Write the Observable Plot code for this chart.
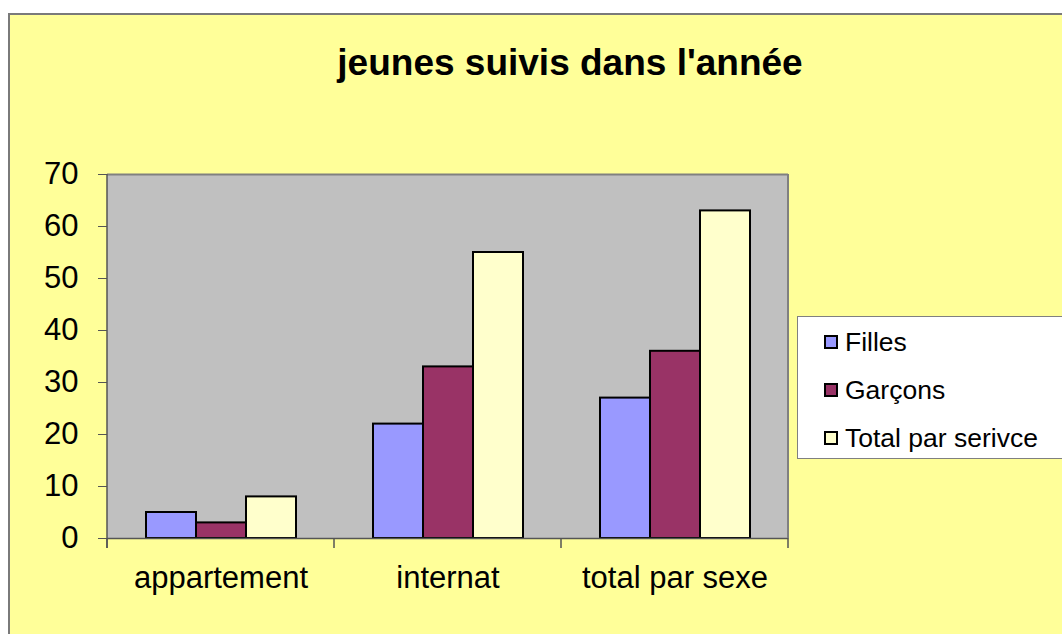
<!DOCTYPE html>
<html>
<head>
<meta charset="utf-8">
<script src="https://cdn.jsdelivr.net/npm/d3@7"></script>
<script src="https://cdn.jsdelivr.net/npm/@observablehq/plot@0.6"></script>
<style>
  html, body { margin: 0; padding: 0; background: #ffffff; }
  body { width: 1062px; height: 634px; position: relative; overflow: hidden; font-family: "Liberation Sans", Arial, sans-serif; }
  #box { position: absolute; left: 8px; top: 13px; width: 1100px; height: 700px; background: #FFFF99; border-left: 2px solid #7a7a7a; border-top: 2px solid #7a7a7a; }
  #title { position: absolute; left: 0; top: 44px; width: 1140px; text-align: center; font: bold 37px/37px "Liberation Sans", Arial, sans-serif; color: #000; white-space: nowrap; }
  #chart { position: absolute; left: 0; top: 0; }
  #legend { position: absolute; left: 797px; top: 316px; width: 300px; height: 143px; background: #ffffff; border: 1px solid #808080; box-sizing: border-box; padding-top: 1px; padding-left: 26px; }
  .item { height: 48px; display: flex; align-items: center; font-size: 26.5px; color: #000; white-space: nowrap; }
  .sw { width: 10px; height: 10px; border: 2px solid #000; margin-right: 7px; flex: none; }
</style>
</head>
<body>
<div id="box"></div>
<div id="title">jeunes suivis dans l'année</div>
<div id="chart"></div>
<div id="legend"></div>
<script>
const categories = ["appartement", "internat", "total par sexe"];
const series = ["Filles", "Garçons", "Total par serivce"];
const filles = [5, 22, 27];
const garcons = [3, 33, 36];
const totals = [8, 55, 63];
const yTicks = [0, 10, 20, 30, 40, 50, 60, 70];
const colors = ["#9999FF", "#993366", "#FFFFCC"];

const seriesValues = [filles, garcons, totals];
const rows = categories.flatMap((cat, i) =>
  series.map((s, j) => ({cat, series: s, value: seriesValues[j][i]}))
);

const chart = Plot.plot({
  width: 800,
  height: 634,
  marginLeft: 107,
  marginRight: 12,
  marginTop: 174,
  marginBottom: 96,
  style: {background: "transparent", fontFamily: "'Liberation Sans', Arial, sans-serif", fontSize: "31px", color: "#000", overflow: "visible"},
  fx: {domain: categories, padding: 0, label: null},
  x: {domain: series, paddingInner: 0, paddingOuter: 0.74, axis: null},
  y: {domain: [0, 70], label: null},
  color: {domain: series, range: colors},
  marks: [
    Plot.frame({fill: "#c0c0c0", stroke: "none", insetLeft: -0.5, insetRight: -0.5, shapeRendering: "crispEdges"}),
    Plot.ruleY([70], {stroke: "#808080", strokeWidth: 2}),
    Plot.barY(rows, {fx: "cat", x: "series", y: "value", fill: "series", stroke: "#000", strokeWidth: 2}),
    Plot.ruleY([0], {stroke: "#555", strokeWidth: 1.5}),
    Plot.axisY({ticks: yTicks, tickSize: 9, tickPadding: 20, fontSize: 31, stroke: "#555", label: null, tickFormat: d => String(d)}),
    Plot.axisFx({anchor: "bottom", tickSize: 0, tickPadding: 27, fontSize: 31, label: null})
  ]
});

document.getElementById("chart").appendChild(chart);

// axis lines and category boundary ticks derived from the plot's scales
const fx = chart.scale("fx");
const y = chart.scale("y");
const y0 = y.apply(0), yTop = y.apply(70);
const starts = categories.map(c => fx.apply(c));
const right = starts[starts.length - 1] + fx.bandwidth;
const edges = starts.concat([right]);
const svg = d3.select(chart);
const g = svg.append("g");
g.selectAll("line.b").data(edges).join("line")
  .attr("x1", d => d).attr("x2", d => d)
  .attr("y1", y0).attr("y2", y0 + 10)
  .attr("stroke", "#555").attr("stroke-width", 1.5);
g.append("line")
  .attr("x1", right).attr("x2", right).attr("y1", yTop).attr("y2", y0)
  .attr("stroke", "#808080").attr("stroke-width", 2);
g.append("line")
  .attr("x1", starts[0]).attr("x2", starts[0]).attr("y1", yTop).attr("y2", y0 + 10)
  .attr("stroke", "#555").attr("stroke-width", 1.5);

// legend
const legend = d3.select("#legend");
series.forEach((s, i) => {
  const item = legend.append("div").attr("class", "item");
  item.append("div").attr("class", "sw").style("background", colors[i]);
  item.append("span").text(s);
});
</script>
</body>
</html>
